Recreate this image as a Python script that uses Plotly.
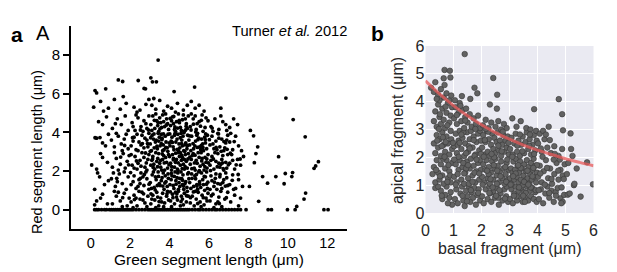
import plotly.graph_objects as go

# ---------------- Panel a data (Green vs Red segment length, um) ----------------
a_cloud = [
 (0.3,0.45),(0.6,0.8),(0.2,0.25),(0.85,0.3),(0.5,0.6),
 (0.2,1.05),(0.45,1.7),(0.7,1.3),(0.9,1.5),(0.35,1.9),
 (0.05,2.31),(0.3,2.1),(0.6,2.7),(0.85,2.45),(0.5,2.9),
 (0.22,3.72),(0.47,3.73),(0.3,3.7),(0.75,3.3),(0.9,3.9),(0.6,3.45),
 (0.6,4.4),(0.8,4.8),(0.4,4.55),
 (0.15,5.3),(0.5,5.6),(0.65,5.1),(0.9,5.25),
 (0.22,6.16),(0.3,6.04),(0.76,6.25),
 (1.1,0.3),(1.3,0.7),(1.5,0.45),(1.7,0.85),(1.85,0.2),(1.2,0.95),(1.6,0.15),(1.95,0.6),(1.4,0.9),
 (1.05,1.6),(1.25,1.2),(1.45,1.85),(1.6,1.35),(1.8,1.05),(1.9,1.7),(1.35,1.45),(1.7,1.95),(1.15,1.9),
 (1.1,2.2),(1.3,2.65),(1.5,2.35),(1.65,2.9),(1.85,2.5),(1.2,2.95),(1.75,2.15),(1.95,2.8),(1.4,2.05),
 (1.05,3.6),(1.2,3.25),(1.4,3.8),(1.55,3.4),(1.7,3.65),(1.9,3.15),(1.3,3.95),(1.8,3.9),(1.6,3.05),
 (1.1,4.2),(1.35,4.7),(1.55,4.4),(1.75,4.85),(1.9,4.1),(1.25,4.45),
 (1.2,5.7),(1.5,5.2),(1.8,5.5),(1.65,5.85),
 (1.4,6.71),(1.62,6.63),
 (2.05,0.4),(2.2,0.75),(2.35,0.2),(2.5,0.55),(2.6,0.9),(2.75,0.35),(2.9,0.7),(2.15,0.1),(2.45,0.95),(2.85,0.15),(2.3,0.6),(2.65,0.5),
 (2.05,1.3),(2.2,1.75),(2.3,1.1),(2.45,1.55),(2.55,1.9),(2.7,1.25),(2.85,1.6),(2.95,1.05),(2.15,1.45),(2.4,1.2),(2.65,1.7),(2.8,1.95),(2.5,1.35),
 (2.1,2.3),(2.25,2.75),(2.35,2.1),(2.5,2.55),(2.6,2.95),(2.75,2.2),(2.9,2.6),(2.05,2.85),(2.4,2.4),(2.7,2.7),(2.85,2.05),(2.2,2.15),(2.55,2.25),(2.95,2.85),
 (2.05,3.3),(2.2,3.75),(2.3,3.1),(2.45,3.5),(2.6,3.85),(2.7,3.2),(2.85,3.6),(2.95,3.95),(2.15,3.55),(2.4,3.05),(2.55,3.35),(2.75,3.7),(2.9,3.25),(2.35,3.9),
 (2.1,4.5),(2.25,4.1),(2.4,4.75),(2.55,4.3),(2.7,4.6),(2.85,4.2),(2.95,4.85),(2.3,4.9),(2.65,4.05),(2.8,4.45),(2.15,4.3),
 (2.2,5.3),(2.5,5.15),(2.8,5.45),(2.95,5.7),(2.35,5.05),
 (2.41,6.68),(2.71,6.27),(2.78,6.25),
 (3.05,0.3),(3.15,0.75),(3.25,0.5),(3.35,0.9),(3.45,0.2),(3.55,0.6),(3.65,0.85),(3.75,0.35),(3.85,0.7),(3.95,0.5),(3.1,0.55),(3.4,0.65),(3.7,0.15),(3.9,0.95),(3.3,0.1),(3.6,0.4),
 (3.02,1.4),(3.12,1.8),(3.22,1.15),(3.32,1.55),(3.42,1.95),(3.52,1.25),(3.62,1.65),(3.72,1.05),(3.82,1.45),(3.92,1.85),(3.08,1.1),(3.28,1.7),(3.48,1.35),(3.68,1.9),(3.88,1.2),(3.58,1.5),(3.38,1.25),(3.78,1.75),(3.18,1.95),
 (3.05,2.3),(3.15,2.75),(3.25,2.1),(3.35,2.5),(3.45,2.9),(3.55,2.2),(3.65,2.6),(3.75,2.05),(3.85,2.45),(3.95,2.85),(3.1,2.55),(3.3,2.95),(3.5,2.4),(3.7,2.8),(3.9,2.15),(3.2,2.35),(3.4,2.65),(3.6,2.05),(3.8,2.7),(3.55,2.55),
 (3.02,3.4),(3.12,3.85),(3.22,3.2),(3.32,3.6),(3.42,3.95),(3.52,3.3),(3.62,3.7),(3.72,3.1),(3.82,3.5),(3.92,3.9),(3.08,3.05),(3.28,3.5),(3.48,3.75),(3.68,3.35),(3.88,3.2),(3.18,3.65),(3.38,3.15),(3.58,3.9),(3.78,3.8),(3.98,3.45),(3.45,3.55),(3.65,3.05),
 (3.05,4.4),(3.15,4.85),(3.25,4.2),(3.35,4.6),(3.45,4.05),(3.55,4.5),(3.65,4.9),(3.75,4.3),(3.85,4.7),(3.95,4.15),(3.1,4.1),(3.3,4.95),(3.5,4.75),(3.7,4.55),(3.9,4.45),(3.6,4.25),(3.4,4.35),(3.8,4.95),
 (3.1,5.4),(3.3,5.2),(3.5,5.65),(3.7,5.1),(3.9,5.35),(3.2,5.75),
 (3.05,6.82),(3.13,6.61),(3.33,6.61),(3.42,7.74),
 (4.05,0.45),(4.15,0.8),(4.25,0.3),(4.35,0.65),(4.45,0.95),(4.55,0.2),(4.65,0.55),(4.75,0.85),(4.85,0.4),(4.95,0.7),(4.1,0.15),(4.4,0.5),(4.7,0.25),(4.9,0.95),(4.3,0.9),(4.6,0.7),
 (4.02,1.3),(4.12,1.75),(4.22,1.1),(4.32,1.5),(4.42,1.9),(4.52,1.2),(4.62,1.6),(4.72,1.05),(4.82,1.45),(4.92,1.85),(4.08,1.55),(4.28,1.95),(4.48,1.4),(4.68,1.8),(4.88,1.15),(4.18,1.25),(4.38,1.65),(4.58,1.95),(4.78,1.35),(4.98,1.6),(4.45,1.05),(4.65,1.3),
 (4.05,2.4),(4.15,2.85),(4.25,2.2),(4.35,2.6),(4.45,2.95),(4.55,2.3),(4.65,2.7),(4.75,2.1),(4.85,2.5),(4.95,2.9),(4.1,2.05),(4.3,2.45),(4.5,2.75),(4.7,2.35),(4.9,2.15),(4.2,2.65),(4.4,2.1),(4.6,2.55),(4.8,2.85),(4.0,2.75),(4.55,2.95),(4.75,2.6),
 (4.02,3.3),(4.12,3.75),(4.22,3.1),(4.32,3.5),(4.42,3.9),(4.52,3.2),(4.62,3.6),(4.72,3.05),(4.82,3.45),(4.92,3.85),(4.08,3.55),(4.28,3.95),(4.48,3.4),(4.68,3.8),(4.88,3.15),(4.18,3.25),(4.38,3.65),(4.58,3.95),(4.78,3.35),(4.98,3.6),(4.45,3.05),(4.65,3.3),(4.25,3.85),
 (4.05,4.35),(4.15,4.8),(4.25,4.15),(4.35,4.55),(4.45,4.95),(4.55,4.25),(4.65,4.65),(4.75,4.05),(4.85,4.45),(4.95,4.85),(4.1,4.6),(4.3,4.05),(4.5,4.5),(4.7,4.9),(4.9,4.2),(4.2,4.45),(4.6,4.1),(4.8,4.7),
 (4.1,5.25),(4.4,5.5),(4.7,5.15),(4.9,5.4),(4.3,5.05),
 (4.23,6.11),
 (5.05,0.35),(5.15,0.7),(5.25,0.2),(5.35,0.55),(5.45,0.9),(5.55,0.4),(5.65,0.75),(5.75,0.25),(5.85,0.6),(5.95,0.85),(5.3,0.95),(5.6,0.15),(5.9,0.45),
 (5.02,1.4),(5.12,1.85),(5.22,1.2),(5.32,1.6),(5.42,1.05),(5.52,1.45),(5.62,1.9),(5.72,1.3),(5.82,1.7),(5.92,1.1),(5.08,1.1),(5.28,1.75),(5.48,1.95),(5.68,1.55),(5.88,1.95),(5.38,1.3),(5.58,1.15),(5.78,1.0),
 (5.05,2.35),(5.15,2.8),(5.25,2.15),(5.35,2.55),(5.45,2.95),(5.55,2.25),(5.65,2.65),(5.75,2.05),(5.85,2.45),(5.95,2.85),(5.1,2.6),(5.3,2.05),(5.5,2.7),(5.7,2.35),(5.9,2.15),(5.2,2.9),(5.6,2.95),(5.8,2.7),(5.4,2.4),
 (5.02,3.35),(5.12,3.8),(5.22,3.15),(5.32,3.55),(5.42,3.95),(5.52,3.25),(5.62,3.65),(5.72,3.05),(5.82,3.45),(5.92,3.85),(5.08,3.05),(5.28,3.3),(5.48,3.7),(5.68,3.4),(5.88,3.15),(5.38,3.85),(5.58,3.1),(5.78,3.75),
 (5.05,4.3),(5.2,4.7),(5.35,4.15),(5.5,4.55),(5.65,4.9),(5.8,4.25),(5.95,4.6),(5.1,4.95),(5.4,4.45),(5.7,4.05),(5.3,4.85),(5.85,4.75),
 (5.1,5.6),(5.3,5.25),(5.27,6.34),(5.5,5.4),(5.75,5.1),
 (6.05,0.45),(6.2,0.8),(6.35,0.3),(6.5,0.65),(6.65,0.15),(6.8,0.55),(6.95,0.9),(6.25,0.1),(6.6,0.95),(6.45,0.4),
 (6.05,1.05),(6.15,1.5),(6.25,1.2),(6.35,1.85),(6.45,1.35),(6.55,1.7),(6.65,1.1),(6.75,1.55),(6.85,1.9),(6.95,1.25),(6.1,1.75),(6.4,1.05),(6.7,1.4),(6.9,1.65),
 (6.05,2.3),(6.15,2.75),(6.25,2.1),(6.35,2.5),(6.45,2.9),(6.55,2.2),(6.65,2.6),(6.75,2.05),(6.85,2.45),(6.95,2.85),(6.1,2.55),(6.3,2.95),(6.5,2.4),(6.7,2.8),(6.9,2.15),(6.6,2.35),
 (6.05,3.35),(6.15,3.8),(6.25,3.15),(6.35,3.55),(6.45,3.95),(6.55,3.25),(6.65,3.65),(6.75,3.05),(6.85,3.45),(6.95,3.85),(6.2,3.4),(6.5,3.7),(6.8,3.2),(6.4,3.1),(6.9,3.6),
 (6.1,4.3),(6.3,4.7),(6.5,4.15),(6.7,4.55),(6.9,4.1),(6.6,4.85),(6.2,4.05),(6.85,4.4),
 (6.6,5.25),
 (7.1,0.4),(7.3,0.75),(7.5,0.2),(7.6,0.6),
 (7.05,1.3),(7.2,1.8),(7.35,1.1),(7.5,1.55),(7.7,1.2),(7.25,1.05),
 (7.05,2.4),(7.15,2.85),(7.3,2.1),(7.45,2.6),(7.6,2.3),(7.75,2.75),(7.2,2.55),
 (7.05,3.5),(7.2,3.1),(7.35,3.8),(7.5,3.3),(7.65,3.05),(7.1,3.95),
 (7.05,4.25),(7.25,4.7),(7.45,4.4),
]
a_core = [
 (2.62,3.42),(2.78,2.93),(2.93,4.12),(3.04,3.72),(3.17,2.18),(3.23,4.62),(3.36,3.28),(3.44,1.72),(3.51,4.18),(3.63,2.88),(3.69,3.92),(3.76,1.38),(3.84,4.38),(3.91,3.02),(3.97,2.32),
 (4.03,4.72),(4.09,1.88),(4.14,3.48),(4.19,2.58),(4.27,4.28),(4.33,1.32),(4.39,3.12),(4.43,2.02),(4.49,4.62),(4.54,3.72),(4.61,2.82),(4.66,1.52),(4.73,3.98),(4.79,2.22),(4.84,4.32),(4.91,3.32),(4.96,1.92),
 (5.03,2.72),(5.09,4.12),(5.14,1.62),(5.19,3.42),(5.26,2.42),(5.33,4.02),(5.39,1.22),(5.44,3.62),(5.51,2.02),(5.57,4.32),(5.63,2.52),(5.69,3.22),(5.76,1.72),(5.83,3.92),(5.89,2.62),(5.94,1.42),
 (6.02,3.62),(6.08,2.02),(6.16,4.22),(6.22,2.62),(6.28,1.42),(6.36,3.22),(6.42,2.22),(6.48,3.92),(6.56,1.82),(6.62,3.02),(6.68,2.42),(6.76,3.52),(6.83,1.22),(6.92,3.12),(6.98,2.32),
 (7.08,2.92),(7.18,1.52),(7.28,3.52),(7.38,2.32),(7.48,1.82),(7.58,2.62),
 (2.52,1.62),(2.68,0.82),(2.82,2.42),(2.96,1.32),(3.06,0.82),(3.14,2.62),(3.27,1.02),(3.39,2.22),(3.47,0.42),(3.58,3.42),(3.66,1.22),(3.73,2.42),(3.87,0.82),(3.94,1.62),
 (4.04,0.92),(4.11,2.22),(4.17,0.62),(4.24,1.72),(4.31,2.92),(4.37,0.82),(4.44,2.42),(4.51,1.62),(4.58,0.42),(4.64,2.12),(4.71,1.22),(4.77,3.02),(4.86,0.72),(4.93,2.62),
 (5.06,0.62),(5.13,2.12),(5.21,0.92),(5.29,2.82),(5.36,1.82),(5.43,0.32),(5.53,1.32),(5.61,3.32),(5.71,0.62),(5.79,2.22),(5.87,1.32),(5.97,2.42),
 (6.12,0.72),(6.32,1.62),(6.52,0.32),(6.72,2.12),(6.88,0.62),(6.58,1.32),
 (3.02,3.02),(3.21,3.92),(3.41,4.52),(3.61,3.62),(3.81,3.22),(4.01,3.92),(4.21,4.82),(4.41,4.22),(4.61,3.42),(4.81,4.12),(5.01,3.82),(5.21,4.42),(5.41,3.22),(5.61,4.62),(5.81,3.62),
 (1.52,2.72),(1.72,3.32),(1.92,2.32),(2.12,3.72),(2.32,2.52),(2.52,4.12),(2.72,1.82),(2.88,3.42),(1.32,1.62),(1.62,0.62),(2.02,1.92),(2.22,0.52),
]
a_outliers = [
 (8.1,4.1),(8.26,3.82),(8.47,3.25),(8.38,2.9),(8.3,2.43),(8.05,1.2),(8.52,0.43),
 (8.72,1.71),(8.97,1.37),(9.39,1.71),(9.53,2.74),(9.87,1.87),(9.81,1.34),(10.24,1.92),
 (10.2,1.71),(9.9,5.77),(10.27,4.66),(10.88,3.77),(11.41,2.26),(11.55,2.48),(11.33,2.14),
 (10.9,0.86),(10.82,0.55),(10.45,0.17),
]
a_zero_x = [0.2,0.3,0.4,0.55,0.7,0.8,0.95,1.05,1.15,1.25,1.35,1.45,1.55,1.65,1.75,1.85,1.95,
            2.05,2.15,2.3,2.45,2.6,2.75,2.9,3.0,3.1,3.2,3.3,3.4,3.5,3.6,3.7,3.8,3.9,4.0,4.1,
            4.2,4.3,4.4,4.5,4.6,4.7,4.8,4.9,5.0,5.15,5.3,5.45,5.55,5.7,5.85,6.0,6.15,6.3,6.4,
            6.55,6.7,6.85,7.0,7.15,7.3,7.45,7.6,7.88,9.0,9.17,9.98,10.37,11.83,12.04]
a_xticks = [0, 2, 4, 6, 8, 10, 12]
a_yticks = [0, 2, 4, 6, 8]

# ---------------- Panel b data (basal vs apical fragment, um) ----------------
b_points = [
 (0.35,0.9),(0.6,0.5),(0.75,0.95),(0.85,0.55),(0.95,0.3),(0.55,0.8),(0.9,0.75),(0.7,0.65),(0.45,0.95),(0.8,0.35),
 (0.25,1.4),(0.3,1.65),(0.35,1.1),(0.4,1.9),(0.45,1.45),(0.5,1.2),(0.55,1.75),(0.6,1.35),(0.65,1.05),(0.7,1.6),(0.75,1.9),(0.8,1.25),(0.85,1.5),(0.9,1.1),(0.95,1.8),(0.38,1.55),(0.62,1.95),(0.88,1.35),
 (0.3,2.5),(0.35,2.15),(0.4,2.8),(0.45,2.35),(0.5,2.65),(0.55,2.05),(0.6,2.9),(0.65,2.45),(0.7,2.2),(0.75,2.75),(0.8,2.5),(0.85,2.1),(0.9,2.95),(0.95,2.3),(0.42,2.6),(0.58,2.4),(0.72,2.55),(0.92,2.65),
 (0.3,3.3),(0.35,3.65),(0.4,3.1),(0.45,3.9),(0.5,3.45),(0.55,3.2),(0.6,3.75),(0.65,3.35),(0.7,3.05),(0.75,3.6),(0.8,3.95),(0.85,3.25),(0.9,3.5),(0.95,3.8),(0.52,3.55),(0.78,3.15),
 (0.2,4.5),(0.3,4.35),(0.35,4.7),(0.45,4.25),(0.55,4.45),(0.65,4.15),(0.5,4.05),(0.75,4.3),(0.85,4.05),(0.68,4.6),(0.4,4.1),
 (0.68,5.14),(0.87,5.11),(0.65,4.84),(0.89,4.87),
 (1.05,0.5),(1.1,0.85),(1.15,0.35),(1.25,0.7),(1.3,0.95),(1.35,0.45),(1.4,0.25),(1.45,0.8),(1.5,0.6),(1.55,0.95),(1.6,0.4),(1.65,0.75),(1.7,0.55),(1.75,0.9),(1.8,0.3),(1.85,0.65),(1.9,0.85),(1.95,0.45),
 (1.02,1.3),(1.08,1.75),(1.12,1.1),(1.18,1.55),(1.22,1.9),(1.28,1.2),(1.32,1.65),(1.38,1.05),(1.42,1.45),(1.48,1.85),(1.52,1.25),(1.58,1.6),(1.62,1.95),(1.68,1.35),(1.72,1.7),(1.78,1.1),(1.82,1.5),(1.88,1.8),(1.92,1.2),(1.98,1.55),(1.15,1.4),(1.35,1.8),(1.55,1.05),(1.75,1.45),(1.95,1.9),(1.45,1.6),
 (1.02,2.4),(1.08,2.85),(1.12,2.15),(1.18,2.6),(1.22,2.95),(1.28,2.3),(1.32,2.7),(1.38,2.05),(1.42,2.5),(1.48,2.9),(1.52,2.2),(1.58,2.65),(1.62,2.95),(1.68,2.35),(1.72,2.75),(1.78,2.1),(1.82,2.55),(1.88,2.85),(1.92,2.25),(1.98,2.6),(1.15,2.45),(1.35,2.9),(1.55,2.4),(1.75,2.05),(1.95,2.95),(1.45,2.15),
 (1.02,3.4),(1.08,3.8),(1.12,3.2),(1.18,3.6),(1.22,3.95),(1.28,3.3),(1.32,3.7),(1.38,3.05),(1.42,3.45),(1.5,3.25),(1.58,3.55),(1.65,3.1),(1.72,3.4),(1.8,3.2),(1.88,3.5),(1.95,3.05),(1.25,3.85),(1.45,3.75),
 (1.05,4.05),(1.3,4.2),(1.6,4.1),(1.75,4.5),(1.85,4.3),(1.4,5.71),
 (2.02,0.6),(2.08,0.35),(2.15,0.85),(2.22,0.5),(2.28,0.95),(2.35,0.4),(2.42,0.75),(2.48,0.55),(2.55,0.9),(2.62,0.3),(2.68,0.7),(2.75,0.45),(2.82,0.85),(2.88,0.6),(2.95,0.4),(2.3,0.7),(2.6,0.55),(2.9,0.95),
 (2.02,1.3),(2.06,1.75),(2.1,1.1),(2.14,1.55),(2.18,1.9),(2.22,1.25),(2.26,1.65),(2.3,1.05),(2.34,1.45),(2.38,1.85),(2.42,1.2),(2.46,1.6),(2.5,1.95),(2.54,1.35),(2.58,1.7),(2.62,1.1),(2.66,1.5),(2.7,1.85),(2.74,1.25),(2.78,1.6),(2.82,1.05),(2.86,1.4),(2.9,1.8),(2.94,1.2),(2.98,1.55),(2.25,1.4),(2.55,1.05),(2.85,1.65),
 (2.02,2.35),(2.06,2.8),(2.1,2.1),(2.14,2.55),(2.18,2.95),(2.22,2.2),(2.26,2.65),(2.3,2.05),(2.34,2.45),(2.38,2.85),(2.42,2.3),(2.46,2.7),(2.5,2.15),(2.54,2.55),(2.58,2.9),(2.62,2.25),(2.66,2.6),(2.7,2.05),(2.74,2.45),(2.78,2.8),(2.82,2.2),(2.86,2.6),(2.9,2.35),(2.94,2.75),(2.98,2.1),(2.45,2.0),
 (2.05,3.15),(2.15,3.35),(2.25,3.05),(2.35,3.25),(2.5,3.1),(2.6,3.3),(2.7,3.0),(2.8,3.2),(2.9,3.05),(2.55,3.75),
 (2.42,4.85),(2.56,4.25),(2.3,3.9),
 (3.02,0.5),(3.07,0.85),(3.12,0.35),(3.17,0.7),(3.22,0.95),(3.27,0.45),(3.32,0.8),(3.37,0.6),(3.42,0.9),(3.47,0.4),(3.52,0.75),(3.57,0.55),(3.62,0.95),(3.67,0.45),(3.72,0.8),(3.77,0.6),(3.82,0.9),(3.87,0.5),(3.92,0.75),(3.97,0.4),(3.25,0.6),(3.55,0.4),
 (3.02,1.25),(3.05,1.6),(3.08,1.05),(3.11,1.45),(3.14,1.85),(3.17,1.2),(3.2,1.55),(3.23,1.95),(3.26,1.3),(3.29,1.7),(3.32,1.1),(3.35,1.45),(3.38,1.85),(3.41,1.2),(3.44,1.6),(3.47,1.0),(3.5,1.35),(3.53,1.75),(3.56,1.15),(3.59,1.5),(3.62,1.9),(3.65,1.25),(3.68,1.65),(3.71,1.05),(3.74,1.4),(3.77,1.8),(3.8,1.2),(3.83,1.55),(3.86,1.95),(3.89,1.3),(3.92,1.7),(3.95,1.1),(3.98,1.45),
 (3.02,2.3),(3.07,2.7),(3.12,2.1),(3.17,2.5),(3.22,2.85),(3.27,2.2),(3.32,2.6),(3.37,2.05),(3.42,2.45),(3.47,2.75),(3.52,2.15),(3.57,2.55),(3.62,2.9),(3.67,2.3),(3.72,2.65),(3.77,2.1),(3.82,2.45),(3.87,2.8),(3.92,2.25),(3.97,2.6),
 (3.1,3.4),(3.25,3.1),(3.4,3.3),(3.6,3.05),(3.88,3.73),(3.75,3.0),(3.95,2.95),
 (4.05,0.5),(4.12,0.85),(4.2,0.35),(4.28,0.7),(4.35,0.95),(4.42,0.55),(4.5,0.8),(4.58,0.4),(4.65,0.75),(4.82,0.53),(4.9,0.4),(4.85,0.35),(4.72,0.9),(4.95,0.65),
 (4.02,1.3),(4.08,1.7),(4.15,1.1),(4.22,1.5),(4.3,1.9),(4.38,1.25),(4.45,1.6),(4.52,1.05),(4.6,1.4),(4.68,1.8),(4.75,1.2),(4.82,1.55),(4.9,1.35),(4.97,1.75),
 (4.02,2.5),(4.08,2.85),(4.15,2.2),(4.25,2.65),(4.35,2.35),(4.48,2.15),(4.6,2.4),(4.75,2.05),(4.88,2.3),(4.91,2.97),(4.2,2.95),
 (4.76,4.09),(4.88,3.55),(4.4,3.1),
 (5.08,0.66),(5.15,0.7),(5.3,1.0),(5.32,1.05),(5.54,0.59),(5.98,1.03),(5.77,1.82),(5.18,2.86),(5.2,2.3),(5.1,1.8),(5.05,1.4),(5.4,1.6),(5.25,2.05),
]
b_core = [
 (0.52,1.32),(0.68,2.02),(0.82,1.72),(0.98,2.52),(0.48,3.02),(0.72,3.82),(0.92,4.22),(0.58,0.62),(0.78,1.12),(0.62,2.72),
 (1.08,1.02),(1.18,2.02),(1.28,2.82),(1.38,1.42),(1.48,0.42),(1.58,2.32),(1.68,1.12),(1.78,3.02),(1.88,0.72),(1.98,2.12),(1.12,3.52),(1.32,0.62),(1.52,1.72),(1.72,2.62),(1.92,1.42),(1.22,2.52),(1.42,3.32),(1.62,0.82),(1.82,1.92),(1.02,1.92),
 (2.04,1.02),(2.12,2.62),(2.2,1.52),(2.28,0.72),(2.36,2.12),(2.44,1.72),(2.52,0.62),(2.6,2.42),(2.68,1.32),(2.76,2.92),(2.84,0.52),(2.92,1.92),(2.08,2.02),(2.24,2.92),(2.4,0.92),(2.56,1.52),(2.72,2.22),(2.88,1.12),(2.96,2.52),(2.32,1.22),(2.64,0.82),(2.16,3.02),
 (3.04,1.02),(3.1,2.02),(3.16,0.62),(3.22,1.42),(3.28,2.42),(3.34,0.92),(3.4,1.62),(3.46,2.22),(3.52,1.12),(3.58,0.72),(3.64,1.52),(3.7,2.42),(3.76,0.92),(3.82,1.32),(3.88,2.12),(3.94,0.82),(3.98,1.72),(3.13,1.32),(3.31,1.72),(3.49,0.62),(3.67,1.02),(3.85,1.62),(3.37,2.82),(3.73,2.82),
 (4.04,0.82),(4.1,1.42),(4.18,2.02),(4.26,1.02),(4.34,1.62),(4.42,0.72),(4.5,1.22),(4.58,1.92),(4.66,0.62),(4.74,1.52),(4.86,0.92),(4.94,1.22),(4.12,2.32),(4.3,2.82),(4.44,2.62),(4.62,2.12),(4.8,1.92),
]
b_fit_x = [0, 0.5, 1, 1.5, 2, 2.5, 3, 3.5, 4, 4.5, 5, 5.5, 6]
b_fit_y = [4.75, 4.28, 3.86, 3.49, 3.17, 2.89, 2.65, 2.44, 2.26, 2.10, 1.95, 1.82, 1.70]
b_ticks = [0, 1, 2, 3, 4, 5, 6]

# The page body has an 8px margin, so the figure is drawn 8px smaller and offset.
OFF = 8
W, H = 617 - OFF, 272 - OFF
def px(x): return (x - OFF) / W
def py(y): return 1 - (y - OFF) / H

FONT = "Liberation Sans, Arial, Helvetica, sans-serif"
fig = go.Figure()

a_all = a_cloud + a_core + a_outliers + [(x, 0) for x in a_zero_x]
fig.add_trace(go.Scatter(
    x=[p[0] for p in a_all], y=[p[1] for p in a_all], mode="markers",
    marker=dict(color="black", size=3.8, line=dict(width=0)),
    xaxis="x", yaxis="y", showlegend=False, hoverinfo="skip"))

b_all = b_points + b_core
fig.add_trace(go.Scatter(
    x=[p[0] for p in b_all], y=[p[1] for p in b_all], mode="markers",
    marker=dict(color="rgb(98,98,98)", size=5.6, line=dict(width=0.6, color="rgb(55,55,55)")),
    xaxis="x2", yaxis="y2", showlegend=False, hoverinfo="skip"))

fig.add_trace(go.Scatter(
    x=b_fit_x, y=b_fit_y, mode="lines", line=dict(color="rgba(232,90,90,0.75)", width=3, shape="spline"),
    xaxis="x2", yaxis="y2", showlegend=False, hoverinfo="skip"))

fig.update_layout(
    template="none",
    width=W, height=H, margin=dict(l=0, r=0, t=0, b=0, pad=0), autosize=False,
    paper_bgcolor="white", plot_bgcolor="rgba(0,0,0,0)",
    font=dict(family=FONT, color="black"),
    xaxis=dict(domain=[px(71), px(347)], range=[-1, 13], tickvals=a_xticks, automargin=False,
               showline=True, linewidth=2, linecolor="black", ticks="", ticklen=0, showgrid=False,
               zeroline=False, tickfont=dict(size=14.5, color="black"), anchor="y"),
    yaxis=dict(domain=[py(229), py(26)], range=[-1, 9.5], tickvals=a_yticks, automargin=False,
               showline=True, linewidth=2, linecolor="black", ticks="outside", ticklen=6,
               tickwidth=2, tickcolor="black", showgrid=False, zeroline=False,
               tickfont=dict(size=15, color="black"), anchor="x"),
    xaxis2=dict(domain=[px(425.5), px(593.5)], range=[0, 6], tickvals=b_ticks, automargin=False,
                showline=False, ticks="outside", ticklen=3, tickcolor="rgba(0,0,0,0)",
                showgrid=True, gridcolor="white", gridwidth=1.3,
                zeroline=False, tickfont=dict(size=16, color="#262626"), anchor="y2"),
    yaxis2=dict(domain=[py(213), py(46)], range=[0, 6], tickvals=b_ticks, automargin=False,
                showline=False, ticks="", showgrid=True, gridcolor="white", gridwidth=1.3,
                zeroline=False, tickfont=dict(size=16, color="#262626"), anchor="x2"),
    shapes=[dict(type="rect", xref="x2 domain", yref="y2 domain", x0=0, x1=1, y0=0, y1=1,
                 fillcolor="#EAEAF2", line=dict(width=0), layer="below")],
)

ann = [
    dict(text="<b>a</b>", x=px(17), y=py(34), font=dict(size=21)),
    dict(text="A", x=px(43), y=py(33), font=dict(size=20)),
    dict(text="Turner <i>et al.</i> 2012", x=px(349), y=py(31.5), xanchor="right", font=dict(size=14.7)),
    dict(text="Red segment length (μm)", x=px(37), y=py(152), textangle=-90, font=dict(size=14.5)),
    dict(text="Green segment length (μm)", x=px(209), y=py(259), font=dict(size=15.5)),
    dict(text="<b>b</b>", x=px(377), y=py(33), font=dict(size=21)),
    dict(text="basal fragment (μm)", x=px(509.5), y=py(248), font=dict(size=16, color="#262626")),
    dict(text="apical fragment (μm)", x=px(398), y=py(131), textangle=-90, font=dict(size=16, color="#262626")),
]
for a in ann:
    a.setdefault("xanchor", "center")
    fig.add_annotation(xref="paper", yref="paper", yanchor="middle", showarrow=False, **a)

fig.write_html("out.html")
